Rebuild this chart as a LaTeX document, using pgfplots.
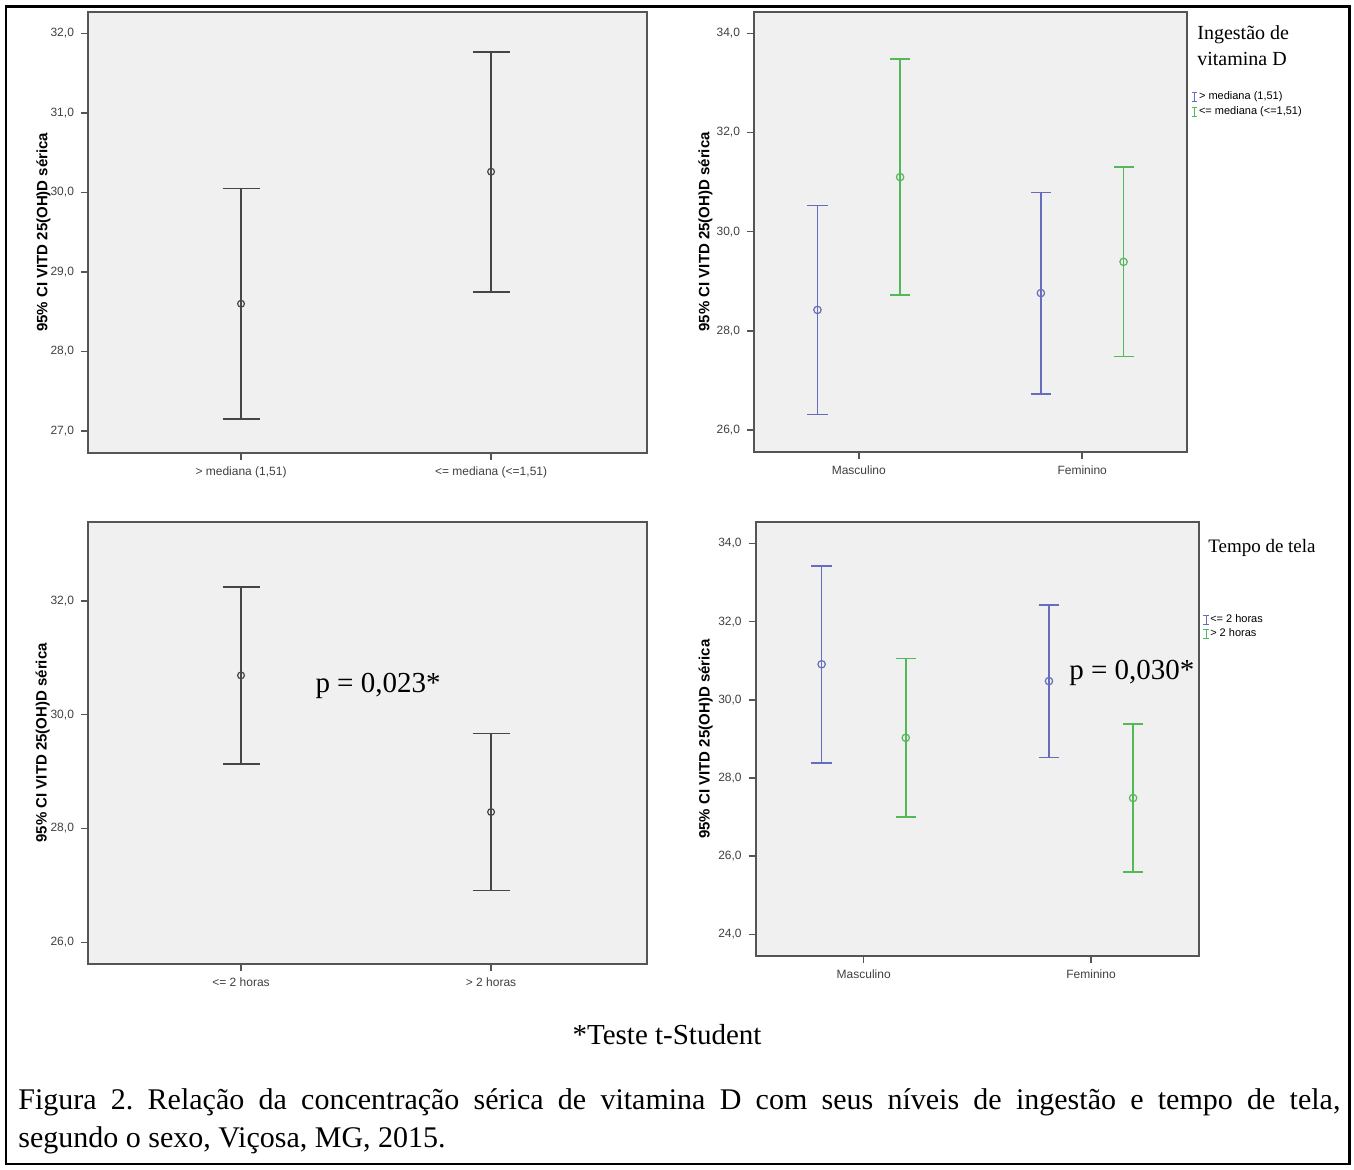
\documentclass[border=0pt]{standalone}
\usepackage{fontspec}
\setmainfont{Liberation Serif}
\setsansfont{Liberation Sans}
\usepackage{pgfplots}
\pgfplotsset{compat=1.18}
\definecolor{bgc}{RGB}{240,240,240}
\definecolor{frm}{RGB}{85,85,85}
\definecolor{barc}{RGB}{70,70,70}
\definecolor{blu}{RGB}{102,108,190}
\definecolor{grn}{RGB}{82,184,88}
\definecolor{tickc}{RGB}{64,64,64}
\pgfplotsset{
  spss/.style={
    scale only axis,
    axis background/.style={fill=bgc},
    axis line style={draw=frm, line width=1pt},
    tick pos=left, tick align=outside,
    major tick length=3.5pt,
    tick style={draw=frm, line width=0.8pt},
    xtick={0,1},
    ticklabel style={font=\sffamily\fontsize{6}{7}\selectfont, text=tickc},
    yticklabel style={/pgf/number format/.cd, fixed, fixed zerofill, precision=1, use comma, assume math mode=true},
    ylabel={95\% CI VITD 25(OH)D sérica},
    unbounded coords=jump,
    clip=false,
  },
  ci/.style={draw=#1, line width=0.8pt, mark=none},
  mn/.style 2 args={only marks, mark=o, mark options={draw=#1, fill=bgc, line width=0.6pt}, mark size=#2, forget plot},
  blulegend/.style={legend image code/.code={\draw[blu, line width=0.45pt] (0pt,-2.2pt)--(0pt,2.2pt) (-1.3pt,-2.2pt)--(1.3pt,-2.2pt) (-1.3pt,2.2pt)--(1.3pt,2.2pt);}},
  grnlegend/.style={legend image code/.code={\draw[grn, line width=0.45pt] (0pt,-2.2pt)--(0pt,2.2pt) (-1.3pt,-2.2pt)--(1.3pt,-2.2pt) (-1.3pt,2.2pt)--(1.3pt,2.2pt);}},
}
\begin{document}
\frenchspacing
\begin{tikzpicture}
\path (0pt,0pt) rectangle (677pt,-585pt);
\draw[line width=1.2pt] (3.1pt,-3.25pt) rectangle (674.75pt,-582pt);

% top-left
\begin{axis}[spss, at={(44pt,-6pt)}, anchor=north west,
  width=279.3pt, height=220.35pt,
  xmin=-0.612, xmax=1.622, ymin=26.727, ymax=32.268,
  ytick={27,28,29,30,31,32},
  xticklabels={{> mediana (1,51)},{<= mediana (<=1,51)}},
  ylabel style={at={(axis description cs:-0.08,0.5)}, anchor=center, font=\sffamily\bfseries\fontsize{7.5}{9}\selectfont}]
\addplot[ci=barc, line width=0.9pt] coordinates {
  (0,27.15) (0,30.05) (nan,nan) (-0.074,30.05) (0.074,30.05) (nan,nan) (-0.074,27.15) (0.074,27.15) (nan,nan)
  (1,28.75) (1,31.77) (nan,nan) (0.926,31.77) (1.074,31.77) (nan,nan) (0.926,28.75) (1.074,28.75)
};
\addplot[mn={barc}{1.7pt}] coordinates {(0,28.60) (1,30.26)};
\end{axis}

% top-right
\begin{axis}[spss, at={(377pt,-6pt)}, anchor=north west,
  width=216.5pt, height=219.85pt,
  xmin=-0.469, xmax=1.469, ymin=25.56, ymax=34.43,
  ytick={26,28,30,32,34},
  xticklabels={Masculino,Feminino},
  ylabel style={at={(axis description cs:-0.112,0.5)}, anchor=center, font=\sffamily\bfseries\fontsize{7.5}{9}\selectfont},
  legend cell align=left,
  legend style={at={(axis description cs:1.01,0.822)}, anchor=north west, draw=none, fill=none, inner sep=0pt, font=\sffamily\fontsize{5.5}{6}\selectfont, row sep=0.5pt, nodes={inner sep=0.6pt}}]
\addplot[ci=blu, blulegend] coordinates {
  (-0.185,26.31) (-0.185,30.53) (nan,nan) (-0.23,30.53) (-0.14,30.53) (nan,nan) (-0.23,26.31) (-0.14,26.31) (nan,nan)
  (0.815,26.73) (0.815,30.79) (nan,nan) (0.77,30.79) (0.86,30.79) (nan,nan) (0.77,26.73) (0.86,26.73)
};
\addlegendentry{> mediana (1,51)}
\addplot[ci=grn, grnlegend] coordinates {
  (0.185,28.72) (0.185,33.48) (nan,nan) (0.14,33.48) (0.23,33.48) (nan,nan) (0.14,28.72) (0.23,28.72) (nan,nan)
  (1.185,27.48) (1.185,31.30) (nan,nan) (1.14,31.30) (1.23,31.30) (nan,nan) (1.14,27.48) (1.23,27.48)
};
\addlegendentry{<= mediana (<=1,51)}
\addplot[mn={blu}{1.85pt}] coordinates {(-0.185,28.42) (0.815,28.76)};
\addplot[mn={grn}{1.85pt}] coordinates {(0.185,31.10) (1.185,29.39)};
\node[anchor=base west, inner sep=0pt, font=\fontsize{10}{12}\selectfont] at (axis description cs:1.023,0.938) {Ingestão de};
\node[anchor=base west, inner sep=0pt, font=\fontsize{10}{12}\selectfont] at (axis description cs:1.023,0.879) {vitamina D};
\end{axis}

% bottom-left
\begin{axis}[spss, at={(44pt,-260.85pt)}, anchor=north west,
  width=279.3pt, height=221.15pt,
  xmin=-0.612, xmax=1.622, ymin=25.62, ymax=33.39,
  ytick={26,28,30,32},
  xticklabels={{<= 2 horas},{> 2 horas}},
  ylabel style={at={(axis description cs:-0.081,0.5)}, anchor=center, font=\sffamily\bfseries\fontsize{7.5}{9}\selectfont}]
\addplot[ci=barc, line width=0.9pt] coordinates {
  (0,29.14) (0,32.24) (nan,nan) (-0.074,32.24) (0.074,32.24) (nan,nan) (-0.074,29.14) (0.074,29.14) (nan,nan)
  (1,26.91) (1,29.67) (nan,nan) (0.926,29.67) (1.074,29.67) (nan,nan) (0.926,26.91) (1.074,26.91)
};
\addplot[mn={barc}{1.7pt}] coordinates {(0,30.69) (1,28.29)};
\node[font=\fontsize{14.5}{17}\selectfont] at (axis cs:0.548,30.51) {p = 0,023*};
\end{axis}

% bottom-right
\begin{axis}[spss, at={(377.85pt,-261.15pt)}, anchor=north west,
  width=221.65pt, height=216.85pt,
  xmin=-0.475, xmax=1.475, ymin=23.45, ymax=34.54,
  ytick={24,26,28,30,32,34},
  xticklabels={Masculino,Feminino},
  ylabel style={at={(axis description cs:-0.113,0.5)}, anchor=center, font=\sffamily\bfseries\fontsize{7.5}{9}\selectfont},
  legend cell align=left,
  legend style={at={(axis description cs:1.008,0.792)}, anchor=north west, draw=none, fill=none, inner sep=0pt, font=\sffamily\fontsize{5.5}{6}\selectfont, row sep=0.5pt, nodes={inner sep=0.6pt}}]
\addplot[ci=blu, blulegend] coordinates {
  (-0.185,28.39) (-0.185,33.43) (nan,nan) (-0.23,33.43) (-0.14,33.43) (nan,nan) (-0.23,28.39) (-0.14,28.39) (nan,nan)
  (0.815,28.53) (0.815,32.43) (nan,nan) (0.77,32.43) (0.86,32.43) (nan,nan) (0.77,28.53) (0.86,28.53)
};
\addlegendentry{<= 2 horas}
\addplot[ci=grn, grnlegend] coordinates {
  (0.185,27.00) (0.185,31.06) (nan,nan) (0.14,31.06) (0.23,31.06) (nan,nan) (0.14,27.00) (0.23,27.00) (nan,nan)
  (1.185,25.60) (1.185,29.38) (nan,nan) (1.14,29.38) (1.23,29.38) (nan,nan) (1.14,25.60) (1.23,25.60)
};
\addlegendentry{> 2 horas}
\addplot[mn={blu}{1.85pt}] coordinates {(-0.185,30.91) (0.815,30.48)};
\addplot[mn={grn}{1.85pt}] coordinates {(0.185,29.03) (1.185,27.49)};
\node[anchor=base west, inner sep=0pt, font=\fontsize{9.5}{12}\selectfont] at (axis description cs:1.020,0.930) {Tempo de tela};
\node[font=\fontsize{14.5}{17}\selectfont] at (axis cs:1.18,30.69) {p = 0,030*};
\end{axis}

\node[anchor=base, inner sep=0pt, font=\fontsize{14.5}{17}\selectfont] at (333.5pt,-522pt) {*Teste t-Student};
\node[anchor=base west, inner sep=0pt, font=\fontsize{15}{19}\selectfont] at (9pt,-554.5pt) {\makebox[661pt][s]{Figura 2. Relação da concentração sérica de vitamina D com seus níveis de ingestão e tempo de tela,}};
\node[anchor=base west, inner sep=0pt, font=\fontsize{15}{19}\selectfont] at (9pt,-573.5pt) {segundo o sexo, Viçosa, MG, 2015.};
\end{tikzpicture}
\end{document}
